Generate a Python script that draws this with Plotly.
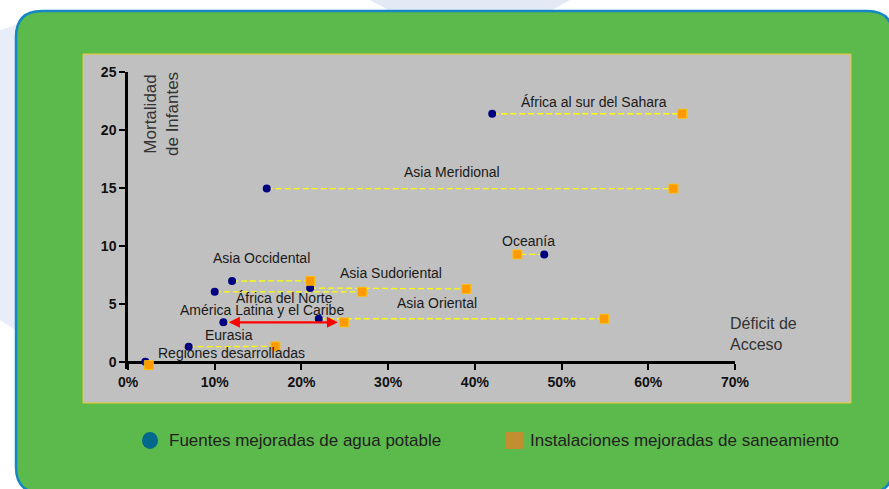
import plotly.graph_objects as go

# ---------------- data ----------------
regions = ["África al sur del Sahara", "Asia Meridional", "Oceanía", "Asia Occidental",
           "Asia Sudoriental", "África del Norte", "América Latina y el Caribe",
           "Asia Oriental", "Eurasia", "Regiones desarrolladas"]
water_deficit = [0.42, 0.16, 0.48, 0.12, 0.21, 0.10, 0.11, 0.22, 0.07, 0.02]
water_mortality = [21.4, 14.95, 9.28, 6.98, 6.38, 6.05, 3.42, 3.73, 1.32, 0.02]
san_deficit = [0.639, 0.629, 0.449, 0.21, 0.39, 0.27, 0.249, 0.549, 0.17, 0.024]
san_mortality = [21.4, 14.95, 9.28, 7.0, 6.3, 6.05, 3.42, 3.73, 1.35, -0.26]

x_ticks = [0, 0.1, 0.2, 0.3, 0.4, 0.5, 0.6, 0.7]
y_ticks = [0, 5, 10, 15, 20, 25]

legend_names = ["Fuentes mejoradas de agua potable", "Instalaciones mejoradas de saneamiento"]
y_title = "Mortalidad<br>de Infantes"
x_title = "Déficit de<br>Acceso"

# label anchor positions (layout, data coordinates)
label_pos = {
    "África al sur del Sahara": (0.537, 22.44),
    "Asia Meridional": (0.374, 16.35),
    "Oceanía": (0.462, 10.43),
    "Asia Occidental": (0.154, 8.94),
    "Asia Sudoriental": (0.303, 7.64),
    "África del Norte": (0.1805, 5.54),
    "América Latina y el Caribe": (0.1546, 4.45),
    "Asia Oriental": (0.356, 5.11),
    "Eurasia": (0.1163, 2.33),
    "Regiones desarrolladas": (0.119, 0.75),
}

# ---------------- layout geometry ----------------
W, H = 889, 489
ML, MR, MT, MB = 128, 154, 72, 120
PW, PH = W - ML - MR, H - MT - MB
Y_LOW = -0.6   # a little room below zero so the lowest marker stays visible
X_AXIS_POS = (0 - Y_LOW) / (25 - Y_LOW)


def px(xp):
    return (xp - ML) / PW


def py(yp):
    return (H - MB - yp) / PH


FONT = "Arial, Liberation Sans, sans-serif"

fig = go.Figure()

# dashed connectors
lx, ly = [], []
for i in range(len(regions)):
    lx += [water_deficit[i], san_deficit[i], None]
    ly += [water_mortality[i], san_mortality[i], None]
fig.add_trace(go.Scatter(x=lx, y=ly, mode="lines", showlegend=False, hoverinfo="skip",
                         line=dict(color="#ffff00", width=1.3, dash="6px,3px"),
                         cliponaxis=False))

fig.add_trace(go.Scatter(x=water_deficit, y=water_mortality, mode="markers", name=legend_names[0],
                         text=regions, showlegend=False, cliponaxis=False,
                         marker=dict(symbol="circle", size=8, color="#000080")))
fig.add_trace(go.Scatter(x=san_deficit, y=san_mortality, mode="markers", name=legend_names[1],
                         text=regions, showlegend=False, cliponaxis=False,
                         marker=dict(symbol="square", size=9, color="#ff9a00",
                                     line=dict(color="#ffc400", width=0.8))))

shapes = []
# faint watermark in background
shapes.append(dict(type="path", xref="paper", yref="paper", layer="below",
                   path=f"M {px(370)} {py(0)} L {px(570)} {py(0)} L {px(545)} {py(14)} L {px(395)} {py(14)} Z",
                   fillcolor="#e4eaf5", line=dict(width=0)))
shapes.append(dict(type="path", xref="paper", yref="paper", layer="below",
                   path=f"M {px(0)} {py(30)} L {px(16)} {py(25)} L {px(16)} {py(330)} L {px(0)} {py(320)} Z",
                   fillcolor="#e8eef7", line=dict(width=0)))

# green rounded panel
x0, y0, x1, y1, r = 16, 11, 893, 493, 26
path = (f"M {px(x0 + r)} {py(y0)} L {px(x1 - r)} {py(y0)} "
        f"Q {px(x1)} {py(y0)} {px(x1)} {py(y0 + r)} L {px(x1)} {py(y1 - r)} "
        f"Q {px(x1)} {py(y1)} {px(x1 - r)} {py(y1)} L {px(x0 + r)} {py(y1)} "
        f"Q {px(x0)} {py(y1)} {px(x0)} {py(y1 - r)} L {px(x0)} {py(y0 + r)} "
        f"Q {px(x0)} {py(y0)} {px(x0 + r)} {py(y0)} Z")
shapes.append(dict(type="path", xref="paper", yref="paper", layer="below", path=path,
                   fillcolor="#5cb94b", line=dict(color="#1487c4", width=2.5)))
# gray plot box
shapes.append(dict(type="rect", xref="paper", yref="paper", layer="below",
                   x0=px(83), x1=px(851), y0=py(403), y1=py(54),
                   fillcolor="#c0c0c0", line=dict(color="#e8cc2a", width=1)))
# legend glyphs
shapes.append(dict(type="circle", xref="paper", yref="paper",
                   x0=px(142), x1=px(158), y0=py(449), y1=py(432),
                   fillcolor="#02698c", line=dict(width=0)))
shapes.append(dict(type="rect", xref="paper", yref="paper",
                   x0=px(505), x1=px(524), y0=py(449), y1=py(432),
                   fillcolor="#c38e2f", line=dict(width=0)))

annotations = []
for name in regions:
    lxp, lyp = label_pos[name]
    annotations.append(dict(x=lxp, y=lyp, xref="x", yref="y", text=name, showarrow=False,
                            xanchor="center", yanchor="middle",
                            font=dict(family=FONT, size=14, color="#1a1a1a")))

# red double arrow (América Latina y el Caribe)
i_al = regions.index("América Latina y el Caribe")
annotations.append(dict(x=san_deficit[i_al], y=san_mortality[i_al], ax=water_deficit[i_al],
                        ay=water_mortality[i_al], xref="x", yref="y", axref="x", ayref="y",
                        text="", showarrow=True, arrowhead=2, startarrowhead=2,
                        arrowside="end+start", arrowsize=1, startarrowsize=1,
                        arrowwidth=2.2, arrowcolor="#ff0000", standoff=6, startstandoff=4))

annotations.append(dict(x=px(161), y=py(114), xref="paper", yref="paper", text=y_title,
                        textangle=-90, showarrow=False, xanchor="center", yanchor="middle",
                        font=dict(family=FONT, size=17, color="#333333")))
annotations.append(dict(x=px(728), y=py(334), xref="paper", yref="paper", text=x_title,
                        showarrow=False, xanchor="left", yanchor="middle", align="left",
                        font=dict(family=FONT, size=16, color="#333333")))
annotations.append(dict(x=px(167), y=py(440), xref="paper", yref="paper", text=legend_names[0],
                        showarrow=False, xanchor="left", yanchor="middle",
                        font=dict(family=FONT, size=17, color="#222222")))
annotations.append(dict(x=px(528), y=py(440), xref="paper", yref="paper", text=legend_names[1],
                        showarrow=False, xanchor="left", yanchor="middle",
                        font=dict(family=FONT, size=17, color="#222222")))

fig.update_layout(
    width=W, height=H,
    margin=dict(l=ML, r=MR, t=MT, b=MB, pad=0),
    paper_bgcolor="#ffffff", plot_bgcolor="rgba(0,0,0,0)",
    showlegend=False,
    shapes=shapes, annotations=annotations,
    xaxis=dict(range=[0, 0.7], tickvals=x_ticks, tickformat=".0%", showgrid=False, zeroline=False,
               anchor="free", position=X_AXIS_POS,
               showline=True, linecolor="#000000", linewidth=2.5, ticks="outside", ticklen=6,
               tickwidth=2, tickcolor="#000000", layer="below traces",
               tickfont=dict(family=FONT, size=14, color="#111111", weight="bold")),
    yaxis=dict(range=[Y_LOW, 25], tickvals=y_ticks, showgrid=False, zeroline=False,
               showline=True, linecolor="#000000", linewidth=2.5, ticks="outside", ticklen=6,
               tickwidth=2, tickcolor="#000000", layer="below traces",
               tickfont=dict(family=FONT, size=14, color="#111111", weight="bold")),
)

fig.write_html("out.html", config={"displayModeBar": False},
               post_script="document.body.style.margin='0';document.body.style.padding='0';")
